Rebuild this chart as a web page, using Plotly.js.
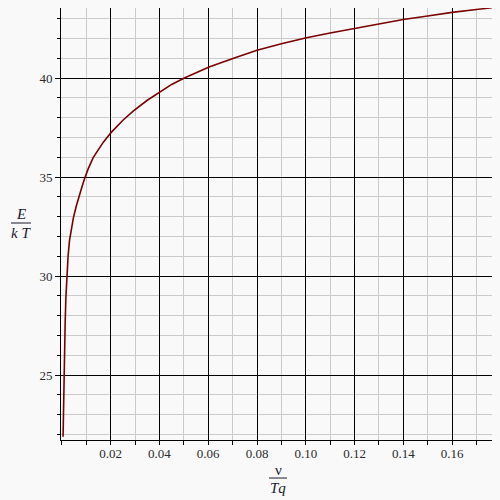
<!DOCTYPE html>
<html>
<head>
<meta charset="utf-8">
<script src="https://cdn.plot.ly/plotly-3.0.1.min.js"></script>
<style>html,body{margin:0;padding:0;background:#f9f9f9;}</style>
</head>
<body>
<div id="chart" style="width:500px;height:500px;"></div>
<script>
// nu/Tq values (x) and E/kT values (y)
const xVals = [0.00045, 0.0006, 0.0008, 0.001, 0.0013, 0.0016, 0.002, 0.0025, 0.0031, 0.0038, 0.0047, 0.0059, 0.0066, 0.0075, 0.0083, 0.0094, 0.0107, 0.0128, 0.0148, 0.0169, 0.0185, 0.0203, 0.025, 0.0292, 0.035, 0.0401, 0.045, 0.0504, 0.0606, 0.0716, 0.08, 0.09, 0.1003, 0.11, 0.12, 0.13, 0.14, 0.15, 0.16, 0.17, 0.1763];
const yVals = [21.88, 23.4, 24.9, 26.0, 27.6, 28.9, 30.0, 31.0, 31.8, 32.4, 32.95, 33.55, 33.86, 34.24, 34.55, 34.96, 35.4, 35.98, 36.38, 36.75, 37.0, 37.27, 37.87, 38.33, 38.88, 39.31, 39.68, 40.02, 40.57, 41.05, 41.41, 41.73, 42.04, 42.28, 42.51, 42.74, 42.96, 43.14, 43.32, 43.46, 43.55];
const xTickVals = [0.02, 0.04, 0.06, 0.08, 0.10, 0.12, 0.14, 0.16];
const xTickText = ["0.02", "0.04", "0.06", "0.08", "0.10", "0.12", "0.14", "0.16"];
const yTickVals = [25, 30, 35, 40];
const yTickText = ["25", "30", "35", "40"];

const serif = 'Liberation Serif';

const trace = {
  x: xVals, y: yVals, type: 'scatter', mode: 'lines',
  line: {color: '#7a0000', width: 1.6},
  hoverinfo: 'skip'
};

const layout = {
  width: 500, height: 500,
  margin: {l: 61, r: 8, t: 8, b: 60},
  paper_bgcolor: '#f9f9f9', plot_bgcolor: '#f9f9f9',
  showlegend: false,
  font: {family: serif, size: 13, color: '#2b2b2b'},
  xaxis: {
    range: [-0.0004, 0.1764],
    tickmode: 'array', tickvals: xTickVals, ticktext: xTickText,
    ticks: 'outside', ticklen: 1, tickcolor: '#000', tickwidth: 1,
    showgrid: true, gridcolor: '#000', gridwidth: 1,
    showline: true, linecolor: '#000', linewidth: 1,
    zeroline: false,
    tickfont: {family: serif, size: 13, color: '#2b2b2b'},
    minor: {dtick: 0.01, tick0: 0, showgrid: true, gridcolor: '#cacaca', gridwidth: 1, ticks: 'outside', ticklen: 4, tickcolor: '#000'}
  },
  yaxis: {
    range: [21.72, 43.54],
    tickmode: 'array', tickvals: yTickVals, ticktext: yTickText,
    ticks: 'outside', ticklen: 5, tickcolor: '#000', tickwidth: 1,
    showgrid: true, gridcolor: '#000', gridwidth: 1,
    showline: true, linecolor: '#000', linewidth: 1,
    zeroline: false,
    tickfont: {family: serif, size: 13, color: '#2b2b2b'},
    minor: {dtick: 1, tick0: 0, showgrid: true, gridcolor: '#cacaca', gridwidth: 1, ticks: 'outside', ticklen: 3, tickcolor: '#000'}
  },
  annotations: [
    {text: 'ν', xref: 'paper', yref: 'paper', x: 0.5035, y: -0.069, xanchor: 'center', yanchor: 'middle', showarrow: false, font: {family: serif, size: 15, color: '#1a1a2e'}},
    {text: '<i>Tq</i>', xref: 'paper', yref: 'paper', x: 0.5035, y: -0.111, xanchor: 'center', yanchor: 'middle', showarrow: false, font: {family: serif, size: 15, color: '#1a1a2e'}},
    {text: '<i>E</i>', xref: 'paper', yref: 'paper', x: -0.0928, y: 0.523, xanchor: 'center', yanchor: 'middle', showarrow: false, font: {family: serif, size: 15, color: '#1a1a2e'}},
    {text: '<i>k T</i>', xref: 'paper', yref: 'paper', x: -0.0928, y: 0.479, xanchor: 'center', yanchor: 'middle', showarrow: false, font: {family: serif, size: 15, color: '#1a1a2e'}}
  ],
  shapes: [
    {type: 'line', xref: 'paper', yref: 'paper', x0: 0.4826, x1: 0.5244, y0: -0.088, y1: -0.088, line: {color: '#1a1a2e', width: 1}},
    {type: 'line', xref: 'paper', yref: 'paper', x0: -0.116, x1: -0.0696, y0: 0.5023, y1: 0.5023, line: {color: '#1a1a2e', width: 1}}
  ]
};

Plotly.newPlot('chart', [trace], layout, {displayModeBar: false, staticPlot: true});
</script>
</body>
</html>
